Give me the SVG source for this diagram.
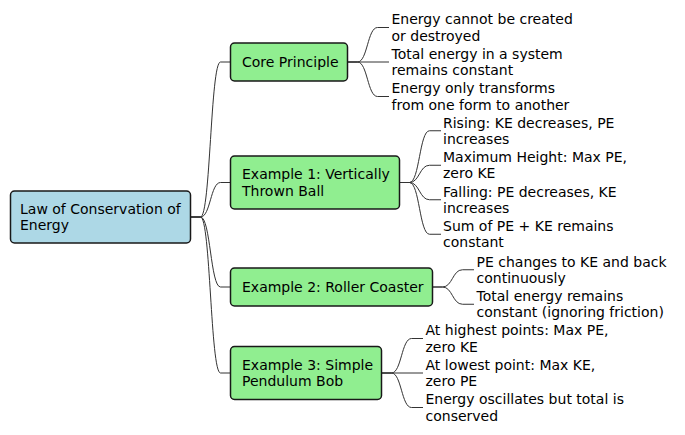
<svg xmlns="http://www.w3.org/2000/svg" width="685" height="435" viewBox="0 0 685 435">
<style>
text{font-family:"DejaVu Sans","Liberation Sans",sans-serif;font-size:14px;fill:#000}
.root{fill:#ADD8E6;stroke:#181818;stroke-width:1.5}
.box{fill:#90EE90;stroke:#181818;stroke-width:1.5}
.c{fill:none;stroke:#333;stroke-width:1}
</style>
<rect width="685" height="435" fill="#fff"/>
<g id="connectors">
<path class="c" d="M190.5,217 L200.5,217 C210.5,217 210.5,62 220.5,62 L230,62"/>
<path class="c" d="M190.5,217 L200.5,217 C210.5,217 210.5,182.5 220.5,182.5 L230,182.5"/>
<path class="c" d="M190.5,217 L200.5,217 C210.5,217 210.5,287 220.5,287 L230,287"/>
<path class="c" d="M190.5,217 L200.5,217 C210.5,217 210.5,373 220.5,373 L230,373"/>
<path class="c" d="M347.5,62 L357.5,62 C367.5,62 367.5,27.5 377.5,27.5 L389,27.5"/>
<path class="c" d="M347.5,62 L389,62"/>
<path class="c" d="M347.5,62 L357.5,62 C367.5,62 367.5,96.5 377.5,96.5 L389,96.5"/>
<path class="c" d="M399.5,182.5 L409.5,182.5 C419.5,182.5 419.5,130.75 429.5,130.75 L441,130.75"/>
<path class="c" d="M399.5,182.5 L409.5,182.5 C419.5,182.5 419.5,165.25 429.5,165.25 L441,165.25"/>
<path class="c" d="M399.5,182.5 L409.5,182.5 C419.5,182.5 419.5,199.75 429.5,199.75 L441,199.75"/>
<path class="c" d="M399.5,182.5 L409.5,182.5 C419.5,182.5 419.5,234.25 429.5,234.25 L441,234.25"/>
<path class="c" d="M432.5,287 L442.5,287 C452.5,287 452.5,269.75 462.5,269.75 L474,269.75"/>
<path class="c" d="M432.5,287 L442.5,287 C452.5,287 452.5,304.25 462.5,304.25 L474,304.25"/>
<path class="c" d="M381.5,373 L391.5,373 C401.5,373 401.5,338.5 411.5,338.5 L423,338.5"/>
<path class="c" d="M381.5,373 L423,373"/>
<path class="c" d="M381.5,373 L391.5,373 C401.5,373 401.5,407.5 411.5,407.5 L423,407.5"/>
</g>
<g id="root">
<rect class="root" x="10.5" y="191" width="180" height="52" rx="4"/>
<text x="20" y="214">Law of Conservation of</text>
<text x="20" y="230.3">Energy</text>
</g>
<g id="core">
<rect class="box" x="230.5" y="43" width="117" height="38" rx="4"/>
<text x="242" y="66.8">Core Principle</text>
</g>
<g id="ex1">
<rect class="box" x="230.5" y="156" width="169" height="53" rx="4"/>
<text x="242" y="179.2">Example 1: Vertically</text>
<text x="242" y="195.5">Thrown Ball</text>
</g>
<g id="ex2">
<rect class="box" x="230.5" y="268" width="202" height="38" rx="4"/>
<text x="242" y="291.8">Example 2: Roller Coaster</text>
</g>
<g id="ex3">
<rect class="box" x="230.5" y="346.5" width="151" height="53" rx="4"/>
<text x="242" y="369.7">Example 3: Simple</text>
<text x="242" y="386">Pendulum Bob</text>
</g>
<g id="core-l1"><text x="391.5" y="24.2">Energy cannot be created</text><text x="391.5" y="40.5">or destroyed</text></g>
<g id="core-l2"><text x="391.5" y="58.7">Total energy in a system</text><text x="391.5" y="75">remains constant</text></g>
<g id="core-l3"><text x="391.5" y="93.2">Energy only transforms</text><text x="391.5" y="109.5">from one form to another</text></g>
<g id="ex1-l1"><text x="443" y="127.5">Rising: KE decreases, PE</text><text x="443" y="143.8">increases</text></g>
<g id="ex1-l2"><text x="443" y="162">Maximum Height: Max PE,</text><text x="443" y="178.3">zero KE</text></g>
<g id="ex1-l3"><text x="443" y="196.5">Falling: PE decreases, KE</text><text x="443" y="212.8">increases</text></g>
<g id="ex1-l4"><text x="443" y="231">Sum of PE + KE remains</text><text x="443" y="247.3">constant</text></g>
<g id="ex2-l1"><text x="476.5" y="266.5">PE changes to KE and back</text><text x="476.5" y="282.8">continuously</text></g>
<g id="ex2-l2"><text x="476.5" y="301">Total energy remains</text><text x="476.5" y="317.3">constant (ignoring friction)</text></g>
<g id="ex3-l1"><text x="425.5" y="335.2">At highest points: Max PE,</text><text x="425.5" y="351.5">zero KE</text></g>
<g id="ex3-l2"><text x="425.5" y="369.7">At lowest point: Max KE,</text><text x="425.5" y="386">zero PE</text></g>
<g id="ex3-l3"><text x="425.5" y="404.2">Energy oscillates but total is</text><text x="425.5" y="420.5">conserved</text></g>
</svg>
